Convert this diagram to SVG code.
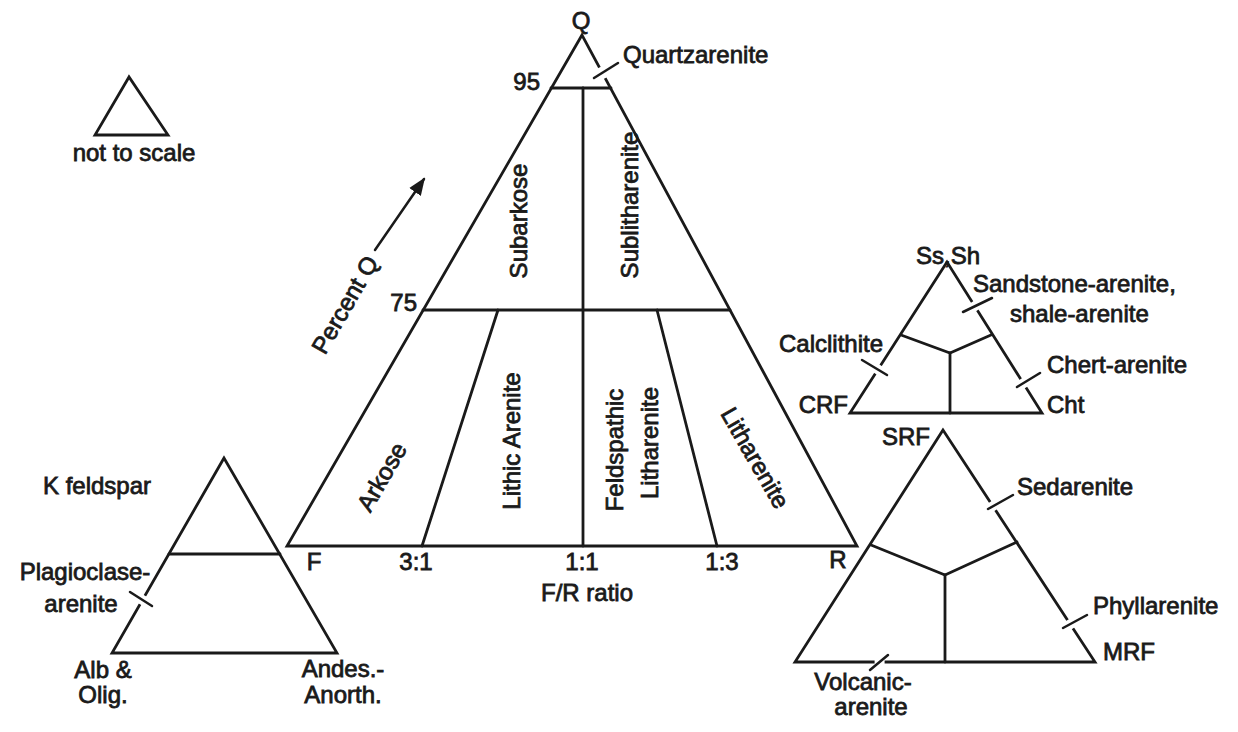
<svg xmlns="http://www.w3.org/2000/svg" width="1238" height="732" viewBox="0 0 1238 732">
<defs>
<style>
.ln{fill:none;stroke:#1a1a1a;stroke-width:2.8;stroke-linejoin:miter;stroke-linecap:round}
.gap{stroke:#ffffff;stroke-width:5;stroke-linecap:butt}
.tk{stroke:#1a1a1a;stroke-width:2.5;stroke-linecap:round}
text{font-family:"Liberation Sans",Arial,Helvetica,sans-serif;font-size:24px;fill:#1a1a1a;stroke:#1a1a1a;stroke-width:0.8}
.m{text-anchor:middle}
.e{text-anchor:end}
</style>
<marker id="ah" viewBox="0 0 10 10" refX="9" refY="5" markerWidth="7" markerHeight="7" markerUnits="strokeWidth" orient="auto">
<path d="M0,1 L10,5 L0,9 Z" fill="#1a1a1a"/>
</marker>
</defs>
<rect width="1238" height="732" fill="#ffffff"/>

<g id="scale-note">
<polygon class="ln" points="129,77 95,135 168,135"/>
<text class="m" x="134" y="161">not to scale</text>
</g>

<g id="main-triangle">
<polygon class="ln" points="582,35 287,546 857,546"/>
<line class="ln" x1="551" y1="88" x2="611" y2="88"/>
<line class="ln" x1="583" y1="88" x2="583" y2="546"/>
<line class="ln" x1="423" y1="310" x2="730" y2="310"/>
<line class="ln" x1="498" y1="310" x2="422" y2="546"/>
<line class="ln" x1="657" y1="310" x2="717" y2="546"/>
<text class="m" x="581" y="29">Q</text>
<text x="623" y="63">Quartzarenite</text>
<text class="e" x="540" y="90">95</text>
<text class="e" x="417" y="311">75</text>
<text class="m" transform="translate(352,309) rotate(-60)">Percent Q</text>
<text class="m" transform="translate(527,221) rotate(-90)">Subarkose</text>
<text class="m" transform="translate(638,205) rotate(-90)">Sublitharenite</text>
<text class="m" transform="translate(389,481) rotate(-60)">Arkose</text>
<text class="m" transform="translate(520,441) rotate(-90)">Lithic Arenite</text>
<text class="m" transform="translate(623,450) rotate(-90)">Feldspathic</text>
<text class="m" transform="translate(658,443) rotate(-90)">Litharenite</text>
<text class="m" transform="translate(748,462) rotate(60)">Litharenite</text>
<text class="m" x="314" y="570">F</text>
<text class="m" x="416" y="570">3:1</text>
<text class="m" x="582" y="570">1:1</text>
<text class="m" x="722" y="570">1:3</text>
<text class="m" x="838" y="568">R</text>
<text class="m" x="587" y="601">F/R ratio</text>
</g>

<g id="feldspar-triangle">
<polygon class="ln" points="224,458 112,653 337,653"/>
<line class="ln" x1="169" y1="554" x2="280" y2="554"/>
<text x="43" y="494">K feldspar</text>
<text class="m" x="85" y="580">Plagioclase-</text>
<text class="m" x="81" y="612">arenite</text>
<text class="m" x="103" y="678">Alb &amp;</text>
<text class="m" x="103" y="703">Olig.</text>
<text class="m" x="343" y="677">Andes.-</text>
<text class="m" x="343" y="703">Anorth.</text>
</g>

<g id="sedimentary-triangle">
<polygon class="ln" points="947,262 850,413 1042,413"/>
<polyline class="ln" points="901,335 950,353 991,335"/>
<line class="ln" x1="950" y1="353" x2="950" y2="413"/>
<text class="m" x="948" y="264">Ss,Sh</text>
<text x="973" y="292">Sandstone-arenite,</text>
<text x="1010" y="322">shale-arenite</text>
<text class="e" x="883" y="352">Calclithite</text>
<text class="e" x="848" y="413">CRF</text>
<text x="1047" y="373">Chert-arenite</text>
<text x="1047" y="413">Cht</text>
</g>

<g id="rock-fragment-triangle">
<polygon class="ln" points="943,430 795,662 1095,662"/>
<polyline class="ln" points="871,545 945,575 1017,542"/>
<line class="ln" x1="945" y1="575" x2="945" y2="662"/>
<text class="e" x="930" y="445">SRF</text>
<text x="1017" y="495">Sedarenite</text>
<text x="1093" y="614">Phyllarenite</text>
<text x="1103" y="660">MRF</text>
<text class="m" x="863" y="690">Volcanic-</text>
<text class="m" x="871" y="715">arenite</text>
</g>

<g id="connectors">
<line class="tk" x1="375" y1="250" x2="424" y2="179" marker-end="url(#ah)"/>
<line class="gap" x1="599.2" y1="67.7" x2="604.8" y2="78.3"/>
<line class="tk" x1="594" y1="78" x2="618" y2="63"/>
<line class="gap" x1="145" y1="595.7" x2="140" y2="604.3"/>
<line class="tk" x1="130" y1="592" x2="152" y2="606"/>
<line class="gap" x1="972.3" y1="301.8" x2="977.7" y2="310.2"/>
<line class="tk" x1="963" y1="312" x2="992" y2="298"/>
<line class="gap" x1="880.7" y1="365.3" x2="875.3" y2="373.7"/>
<line class="tk" x1="862" y1="360" x2="887" y2="375"/>
<line class="gap" x1="1020.6" y1="379.1" x2="1026" y2="387.5"/>
<line class="tk" x1="1017" y1="387" x2="1040" y2="373"/>
<line class="gap" x1="990.3" y1="501.8" x2="995.7" y2="510.2"/>
<line class="tk" x1="988" y1="509" x2="1013" y2="495"/>
<line class="gap" x1="1067.6" y1="620" x2="1073" y2="628.4"/>
<line class="tk" x1="1063" y1="628" x2="1087" y2="615"/>
<line class="gap" x1="874.6" y1="662" x2="884.6" y2="662"/>
<line class="tk" x1="870" y1="670" x2="888" y2="655"/>
</g>
</svg>
